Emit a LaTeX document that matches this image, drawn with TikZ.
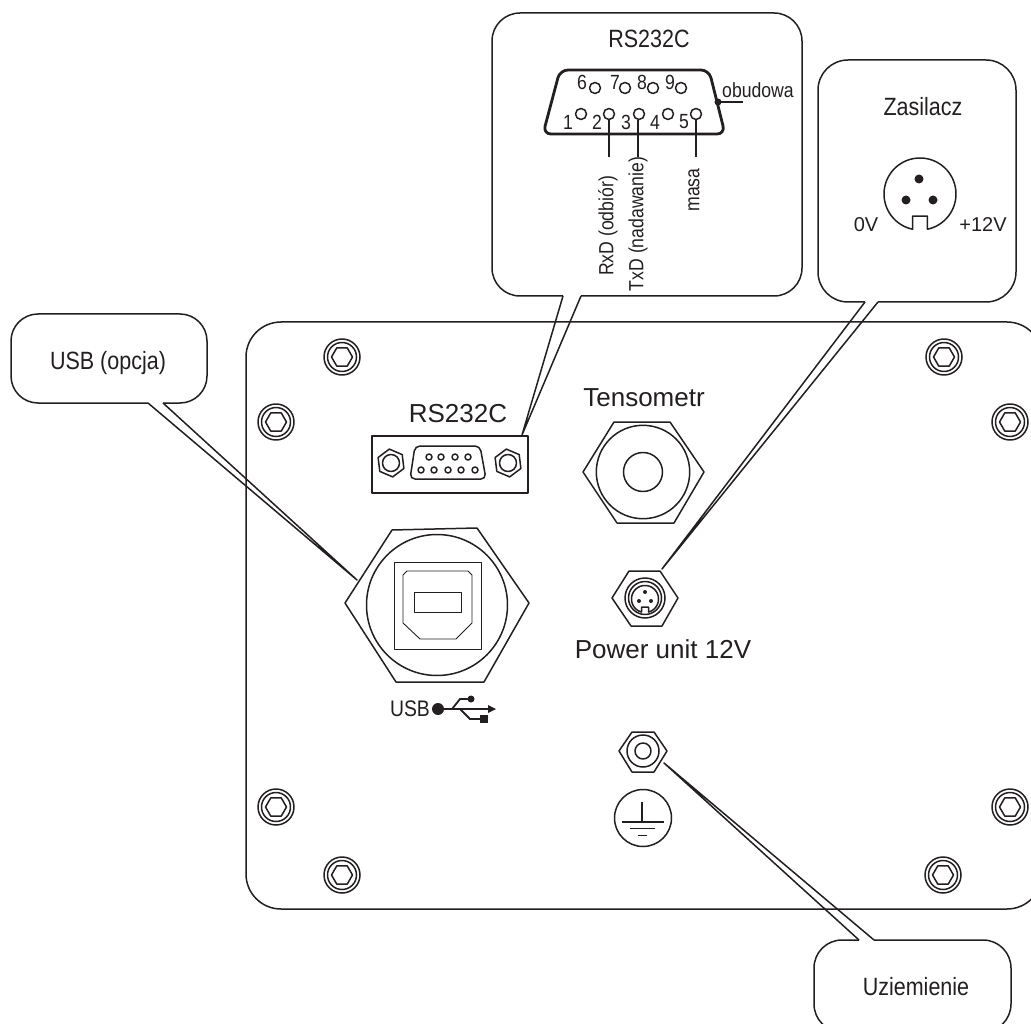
\documentclass[tikz,border=0pt]{standalone}
\usepackage{fontspec}
\setmainfont{Liberation Sans}
\newfontfamily\narrowfont[FakeStretch=0.86]{Liberation Sans}
\usepackage{tikz}
\usetikzlibrary{math}
\definecolor{ink}{HTML}{231F20}
\tikzstyle{line} = [draw=ink, line width=1.5pt, line join=round]
\tikzstyle{thin line} = [draw=ink, line width=0.9pt, line join=round]
\tikzstyle{plug} = [draw=ink, line width=2.8pt, line join=round]
\tikzstyle{big} = [text=ink, inner sep=0pt, font=\fontsize{26}{26}\selectfont]
\tikzstyle{title} = [text=ink, inner sep=0pt, font=\narrowfont\fontsize{25}{25}\selectfont]
\tikzstyle{small} = [text=ink, inner sep=0pt, font=\narrowfont\fontsize{20.5}{20.5}\selectfont]
\tikzstyle{volt} = [text=ink, inner sep=0pt, font=\fontsize{20}{20}\selectfont]
\newcommand{\hexnut}[4]{\draw[line] (#1,#2) +(#4:#3) -- +(#4+60:#3) -- +(#4+120:#3) -- +(#4+180:#3) -- +(#4+240:#3) -- +(#4+300:#3) -- cycle;}
% circle with a key at the bottom, y grows downwards here
\newcommand{\keyed}[5]{\draw[line] plot[domain=90+#4:450-#4, samples=80] ({#1+#3*cos(\x)},{#2+#3*sin(\x)}) -- ++(0,-#5) -- ++({-2*#3*sin(#4)},0) -- cycle;}

\begin{document}
\begin{tikzpicture}[x=1pt, y=-1pt]

  \useasboundingbox (0,0) rectangle (1031,1024);
  \clip (0,0) rectangle (1031,1024);

  % panel
  \draw[line, rounded corners=35pt] (246,322) rectangle (1042,909);
  \foreach \bx/\by in {342/357, 276/422, 944/357, 1010/422, 276/807, 342/875, 943/875, 1010/807} {
    \draw[line] (\bx,\by) circle (18);
    \draw[line] (\bx,\by) circle (14.5);
    \hexnut{\bx}{\by}{10.5}{0}
  }

  % RS232C socket
  \node[big] (rslabel) at (458,414) {RS232C};
  \draw[line] (372,436) rectangle (528,493);
  \foreach \sx in {391, 508} {
    \hexnut{\sx}{463}{14}{23}
    \draw[line] (\sx,463) circle (8.5);
  }
  \draw[line, rounded corners=5pt] (415,446) -- (480,446) -- (486,479) -- (410,479) -- cycle;
  \foreach \px in {429, 441, 455, 468} \draw[line] (\px,457) circle (3);
  \foreach \px in {421, 434, 448, 461, 475} \draw[line] (\px,470) circle (3);

  % tensometr gland
  \node[big] (tenslabel) at (644,398) {Tensometr};
  \draw[line] (583,472) -- (614,422) -- (670,422) -- (704,472) -- (674,523) -- (617,523) -- cycle;
  \draw[line] (643,472) circle (46.7);
  \draw[line] (643,472) circle (19.5);

  % usb socket
  \draw[line] (345,603) -- (392,530) -- (477,528) -- (529,603) -- (484,682) -- (396,682) -- cycle;
  \draw[line] (437,605) circle (70.5);
  \draw[thin line] (394,562) rectangle (481,649);
  \draw[thin line] (407,571) -- (468,571) -- (472,575) -- (472,623) -- (456,639) -- (420,639) -- (403,623) -- (403,575) -- cycle;
  \draw[thin line] (414,592) rectangle (461,612);
  \node[title, font=\narrowfont\fontsize{22.5}{22.5}\selectfont] (usbmark) at (410,709) {USB};
  \fill[ink] (438,709) circle (6);
  \draw[ink, line width=1.8pt] (438,709) -- (491,709);
  \fill[ink] (496,709) -- (488,705) -- (488,713) -- cycle;
  \draw[ink, line width=1.8pt] (452,709) -- (460,699) -- (471,699);
  \fill[ink] (471,699) circle (3.5);
  \draw[ink, line width=1.8pt] (460,709) -- (470,719) -- (480,719);
  \fill[ink] (480,715) rectangle (488,723);

  % power socket
  \draw[line] (612,598) -- (629,571) -- (660,571) -- (678,598) -- (662,626) -- (631,626) -- cycle;
  \draw[line] (645,598) circle (20);
  \draw[line] (645,598) circle (16.5);
  \keyed{645}{599}{13.5}{15}{5}
  \foreach \dx/\dy in {645/592, 639/601, 651/601} \fill[ink] (\dx,\dy) circle (2);
  \node[big] (powerlabel) at (663,649) {Power unit 12V};

  % ground
  \draw[line] (619,751) -- (632,732) -- (654,732) -- (667,751) -- (654,772) -- (632,772) -- cycle;
  \draw[line] (643,751) circle (16);
  \draw[line] (643,751) circle (8);
  \draw[line] (643,818) circle (28.5);
  \draw[line] (642,802) -- (642,822);
  \draw[line] (622,822) -- (664,822);
  \draw[thin line] (630,828) -- (655,828);
  \draw[thin line] (638,835) -- (647,835);

  % callout USB
  \coordinate (usbtip) at (357,580);
  \coordinate (usba) at (148,403);
  \coordinate (usbb) at (163,403);
  \draw[line, rounded corners=27pt] (usba) -- (11,403) -- (11,314) -- (207,314) -- (207,403) -- (usbb);
  \draw[line] (usba) -- (usbtip) -- (usbb);
  \node[title] (usbtitle) at (108,363) {USB (opcja)};

  % callout RS232C
  \coordinate (rstip) at (522,435);
  \coordinate (rsa) at (563,296);
  \coordinate (rsb) at (581,296);
  \draw[line, rounded corners=28pt] (rsa) -- (492,296) -- (492,13) -- (802,13) -- (802,296) -- (rsb);
  \draw[line] (rsa) -- (rstip) -- (rsb);
  \node[title] (rstitle) at (649,39) {RS232C};
  \draw[plug, rounded corners=8pt] (560,70) -- (709,70) -- (725,134) -- (543,134) -- cycle;
  \fill[ink] (718,102) circle (3.5);
  \draw[line] (718,102) -- (743,102);
  \node[small] (shell) at (758,90) {obudowa};
  \foreach \px/\pn/\lx in {595/6/582, 625/7/615, 653/8/642, 681/9/670} {
    \draw[line] (\px,88) circle (5.5);
    \node[small] (pin\pn) at (\lx,82) {\pn};
  }
  \foreach \px/\pn/\lx in {581/1/568, 609/2/597, 639/3/626, 668/4/655, 696/5/684} {
    \draw[line] (\px,114) circle (5.5);
    \node[small] (pin\pn) at (\lx,122) {\pn};
  }
  \draw[line] (609,120) -- (609,157);
  \draw[line] (638,120) -- (638,157);
  \draw[line] (696,120) -- (696,157);
  \node[small, rotate=90] (rxd) at (608,226) {RxD (odbiór)};
  \node[small, rotate=90] (txd) at (638,224) {TxD (nadawanie)};
  \node[small, rotate=90] (gnd) at (694,190) {masa};

  % callout Zasilacz
  \coordinate (powtip) at (662,569);
  \coordinate (powa) at (865,302);
  \coordinate (powb) at (878,302);
  \draw[line, rounded corners=30pt] (powa) -- (818,302) -- (818,60) -- (1016,60) -- (1016,302) -- (powb);
  \draw[line] (powa) -- (powtip) -- (powb);
  \node[title] (powtitle) at (923,107) {Zasilacz};
  \keyed{920}{194}{36}{12}{13}
  \foreach \dx/\dy in {919/179, 906/200, 933/200} \fill[ink] (\dx,\dy) circle (4.5);
  \node[volt] (zerov) at (866,225) {0V};
  \node[volt] (plusv) at (983,225) {+12V};

  % callout Uziemienie
  \coordinate (gndtip) at (664,763);
  \coordinate (gnda) at (859,940);
  \coordinate (gndb) at (874,940);
  \draw[line, rounded corners=28pt] (gnda) -- (814,940) -- (814,1032) -- (1011,1032) -- (1011,940) -- (gndb);
  \draw[line] (gnda) -- (gndtip) -- (gndb);
  \node[title] (gndtitle) at (916,987) {Uziemienie};

\end{tikzpicture}
\end{document}
